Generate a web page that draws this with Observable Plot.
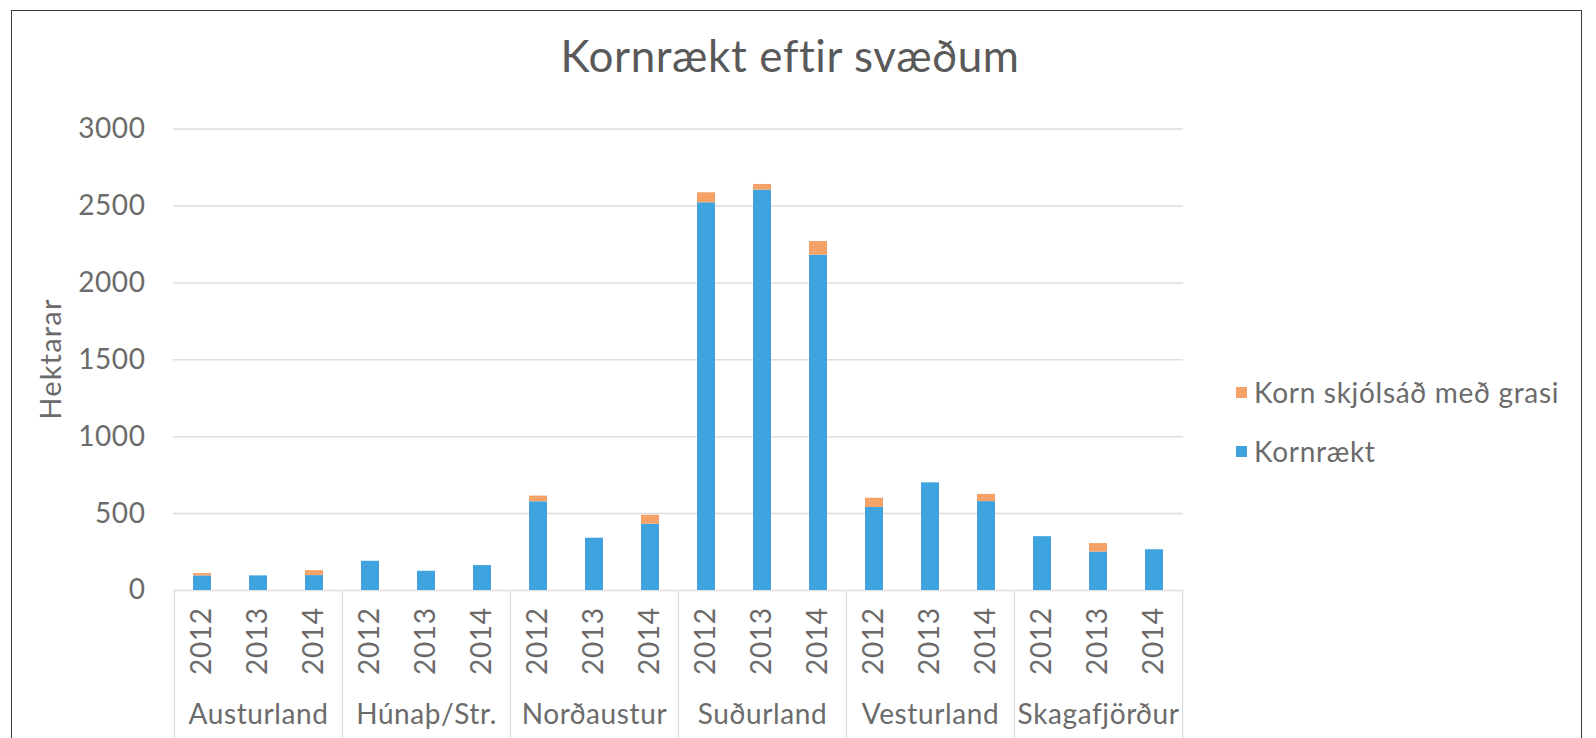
<!DOCTYPE html>
<html>
<head>
<meta charset="utf-8">
<script src="https://cdn.jsdelivr.net/npm/d3@7"></script>
<script src="https://cdn.jsdelivr.net/npm/@observablehq/plot@0.6"></script>
<style>
  html, body { margin: 0; padding: 0; width: 1596px; height: 738px; overflow: hidden; background: #fff; }
  #wrap { position: relative; width: 1596px; height: 738px; font-family: Lato, "Open Sans", sans-serif; }
  #frame { position: absolute; left: 11px; top: 10px; width: 1571px; height: 900px; border: 1.5px solid #3a3a3a; box-sizing: border-box; pointer-events: none; }
  #title { position: absolute; left: 0; width: 1596px; top: 29px; text-align: center; font-size: 44px; letter-spacing: 0.6px; color: #595959; box-sizing: border-box; padding-right: 16px; }
  #ylabel { position: absolute; left: 49px; top: 359px; transform: translate(-50%, -50%) rotate(-90deg); font-size: 29px; letter-spacing: 1.2px; color: #6b6b6b; white-space: nowrap; }
  .leg { position: absolute; left: 1236px; font-size: 28px; letter-spacing: 0.7px; color: #6b6b6b; white-space: nowrap; display: flex; align-items: center; }
  .leg span.sw { display: inline-block; width: 11px; height: 11px; margin-right: 7px; }
  #chart { position: absolute; left: 0; top: 0; }
  #chart svg text { letter-spacing: 0.6px; }
</style>
</head>
<body>
<div id="wrap">
  <div id="chart"></div>
  <div id="title">Kornrækt eftir svæðum</div>
  <div id="ylabel">Hektarar</div>
  <div id="legend"></div>
  <div id="frame"></div>
</div>
<script>
// ---- data ----
const regions = ["Austurland", "Húnaþ/Str.", "Norðaustur", "Suðurland", "Vesturland", "Skagafjörður"];
const years = ["2012", "2013", "2014"];
const seriesNames = ["Kornrækt", "Korn skjólsáð með grasi"];
const seriesColors = ["#3ea3df", "#f4a268"];
// values in region order, each region 2012, 2013, 2014
const kornraekt = [95, 95, 97, 190, 125, 162, 577, 340, 431, 2521, 2603, 2180, 540, 700, 578, 350, 250, 265];
const kornSkjolsad = [15, 0, 32, 0, 0, 0, 37, 0, 58, 65, 37, 89, 60, 0, 47, 0, 55, 0];
const yTicks = [0, 500, 1000, 1500, 2000, 2500, 3000];

// ---- table ----
const keys = [];
regions.forEach(r => years.forEach(y => keys.push(r + "|" + y)));
const rows = [];
[kornraekt, kornSkjolsad].forEach((vals, s) => {
  keys.forEach((k, i) => rows.push({key: k, series: seriesNames[s], value: vals[i]}));
});

// ---- layout ----
const W = 1596, H = 738;
const mL = 173, mR = 413, mT = 128.6, mB = 148;
const step = (W - mL - mR) / keys.length;
const groupStarts = regions.map(r => r + "|" + years[0]);
const groupEnd = [regions[regions.length - 1] + "|" + years[years.length - 1]];
const sepColor = "#dcdcdc";

const plot = Plot.plot({
  width: W, height: H,
  marginLeft: mL, marginRight: mR, marginTop: mT, marginBottom: mB,
  style: {fontFamily: "Lato, 'Open Sans', sans-serif", fontSize: "28px", color: "#6b6b6b", background: "transparent", overflow: "visible"},
  x: {domain: keys, paddingInner: 0.68, paddingOuter: 0.34, label: null,
      tickFormat: k => k.split("|")[1], tickRotate: -90, tickSize: 0, tickPadding: 17},
  y: {domain: [0, 3000], ticks: yTicks, tickFormat: d => String(d), label: null, tickSize: 0, tickPadding: 28},
  color: {domain: seriesNames, range: seriesColors},
  marks: [
    Plot.ruleY(yTicks, {stroke: "#dedede", strokeWidth: 1.5}),
    Plot.barY(rows, {x: "key", y: "value", fill: "series"}),
    Plot.ruleX(groupStarts, {x: d => d, dx: -step / 2, y1: 0, y2: 0, insetBottom: -mB, stroke: sepColor, strokeWidth: 1.2}),
    Plot.ruleX(groupEnd, {x: d => d, dx: step / 2, y1: 0, y2: 0, insetBottom: -mB, stroke: sepColor, strokeWidth: 1.2}),
    Plot.text(regions, {x: r => r + "|" + years[1], frameAnchor: "bottom", dy: 133, text: d => d, fontSize: 28, fill: "#6b6b6b"})
  ]
});
document.getElementById("chart").appendChild(plot);

// ---- legend (top entry is the upper stack segment) ----
const legend = document.getElementById("legend");
const legendOrder = [1, 0];
const legendCenters = [393, 452];
legendOrder.forEach((s, j) => {
  const d = document.createElement("div");
  d.className = "leg";
  d.style.top = (legendCenters[j] - 18) + "px";
  d.innerHTML = `<span class="sw" style="background:${seriesColors[s]}"></span>${seriesNames[s]}`;
  legend.appendChild(d);
});
</script>
</body>
</html>
